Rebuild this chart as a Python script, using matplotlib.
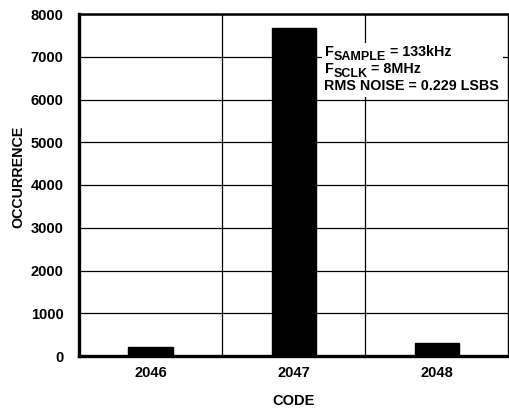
import matplotlib
matplotlib.use('Agg')
import matplotlib.pyplot as plt
from matplotlib.patches import Rectangle

# histogram of output codes
codes = ['2046', '2047', '2048']
occurrence = [210, 7670, 300]
y_ticks = [0, 1000, 2000, 3000, 4000, 5000, 6000, 7000, 8000]

plt.rcParams['font.family'] = ['Liberation Sans', 'DejaVu Sans']
plt.rcParams['font.weight'] = 'bold'

fig = plt.figure(figsize=(5.1, 4.13), dpi=100)
ax = fig.add_axes([79 / 510, 1 - 356 / 413, 429.5 / 510, 342 / 413])

x = list(range(len(codes)))
ax.bar(x, occurrence, width=0.31, color='black', edgecolor='black', zorder=3)

ax.set_xlim(-0.5, len(codes) - 0.5)
ax.set_ylim(0, 8000)
ax.set_xticks(x)
ax.set_xticklabels(codes)
ax.set_yticks(y_ticks)
ax.set_xticks([i + 0.5 for i in x[:-1]], minor=True)
ax.tick_params(which='both', length=0, labelsize=10.5)
ax.tick_params(axis='y', pad=11)
ax.tick_params(axis='x', pad=7)
for lab in ax.get_xticklabels() + ax.get_yticklabels():
    lab.set_fontweight('bold')

ax.grid(axis='y', which='major', color='black', linewidth=0.9, zorder=1)
ax.grid(axis='x', which='minor', color='black', linewidth=0.9, zorder=1)
ax.grid(axis='x', which='major', visible=False)

ax.spines['left'].set_linewidth(2.4)
ax.spines['bottom'].set_linewidth(2.4)
ax.spines['top'].set_linewidth(1.8)
ax.spines['right'].set_linewidth(1.0)

ax.set_xlabel('CODE', fontsize=10.5, fontweight='bold', labelpad=10)
ax.set_ylabel('OCCURRENCE', fontsize=10.3, fontweight='bold')
ax.yaxis.set_label_coords(-0.125, 0.523)

# white box behind the conditions text
ax.add_patch(Rectangle((0.566, 0.757), 0.421, 0.158, transform=ax.transAxes,
                       facecolor='white', edgecolor='none', zorder=4))


def put_line(parts, x0, y0):
    # parts: (text, size, drop in points)
    fig.canvas.draw()
    r = fig.canvas.get_renderer()
    xpix = ax.transAxes.transform((x0, y0))
    cur = xpix[0]
    for s, size, drop in parts:
        t = ax.text(cur, xpix[1] - drop * fig.dpi / 72, s, transform=None,
                    fontsize=size, fontweight='bold', va='baseline', ha='left',
                    zorder=5)
        bb = t.get_window_extent(renderer=r)
        cur = bb.x1


put_line([('F', 10.3, 0), ('SAMPLE', 9, 3), (' = 133kHz', 10.3, 0)], 0.572, 0.878)
put_line([('F', 10.3, 0), ('SCLK', 9, 3), (' = 8MHz', 10.3, 0)], 0.572, 0.828)
put_line([('RMS NOISE = 0.229 LSBS', 10.3, 0)], 0.570, 0.778)

fig.savefig('out.png', dpi=100)
